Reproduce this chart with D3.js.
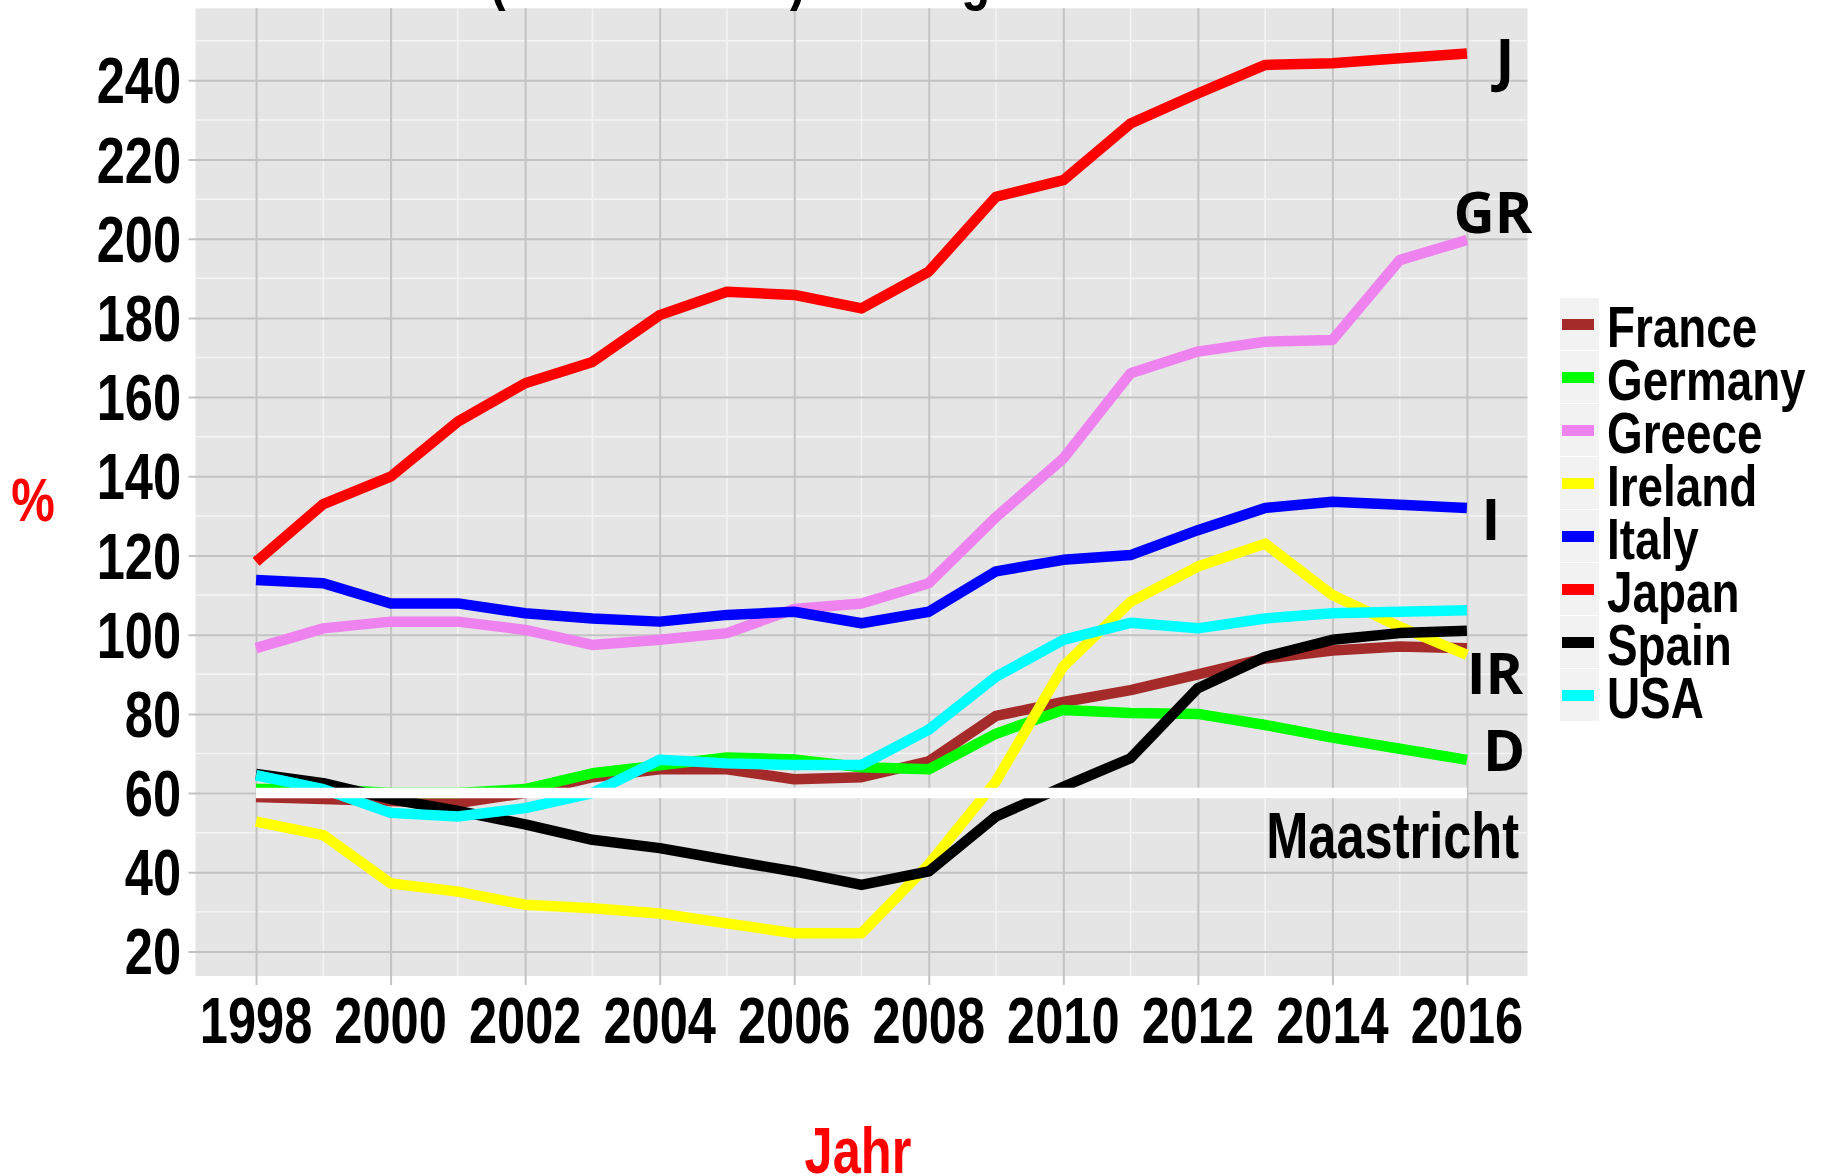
<!DOCTYPE html>
<html lang="de">
  <head>
    <meta charset="UTF-8">
    <script type="text/javascript" src="https://cdn.jsdelivr.net/npm/d3@7"></script>
    <style>
      body { margin: 0; background: #fff; }
      .narrow { font-family: 'Liberation Sans', Arial, sans-serif; font-weight: bold; }
      .tag { font-family: 'Open Sans', 'Noto Sans', sans-serif; font-weight: bold; }
    </style>
    <title>Staatsschulden</title>
  </head>
  <body>
    <script type="text/javascript">
      // Data (% of GDP)
      let years = d3.range(1998, 2017);
      let countries = ['France', 'Germany', 'Greece', 'Ireland', 'Italy', 'Japan', 'Spain', 'USA'];
      let colors = ['#A52A2A', '#00FF00', '#EE82EE', '#FFFF00', '#0000FF', '#FF0000', '#000000', '#00FFFF'];

      let france  = [59, 58.5, 58, 57.5, 60, 64, 66, 66, 63.5, 64, 68, 79.5, 83, 86, 90, 94, 96, 97, 96.6];
      let germany = [61, 61, 60, 60, 61, 65, 67, 69, 68.5, 66.5, 66, 75, 81, 80.2, 80, 77.2, 74, 71.2, 68.4];
      let greece  = [96.6, 101.6, 103.3, 103.3, 101.2, 97.4, 98.7, 100.4, 106.5, 107.9, 113, 129.7, 144.5, 166, 171.5, 174, 174.4, 194.6, 199.7];
      let ireland = [52.8, 49.4, 37.2, 35.1, 31.8, 30.9, 29.6, 27.1, 24.6, 24.6, 42, 63, 92, 108.3, 117.2, 123, 110, 102, 94.9];
      let italy   = [113.8, 113, 107.9, 107.9, 105.4, 104.1, 103.3, 105, 105.8, 102.9, 105.8, 116, 118.9, 120.1, 126.4, 132, 133.6, 132.8, 132];
      let japan   = [118.4, 133, 139.9, 153.8, 163.5, 168.9, 180.7, 186.6, 185.8, 182.4, 191.7, 210.6, 214.8, 229.1, 236.7, 243.9, 244.3, 245.6, 246.8];
      let spain   = [64.8, 62.5, 58.5, 55.5, 52.1, 48.2, 46.1, 43.1, 40.2, 36.8, 40.2, 54.1, 61.6, 68.8, 86.5, 94.4, 98.7, 100.4, 101];
      let usa     = [64.5, 61, 55, 54.1, 56.2, 60, 68.4, 67.5, 67.1, 67.1, 76, 89.4, 98.7, 103, 101.6, 104.1, 105.4, 105.8, 106.2];
      let seriesValues = [france, germany, greece, ireland, italy, japan, spain, usa];

      let endLabels = [
        { text: 'J', country: 'Japan' },
        { text: 'GR', country: 'Greece' },
        { text: 'I', country: 'Italy' },
        { text: 'IR', country: 'Ireland' },
        { text: 'D', country: 'Germany' }
      ];
      let maastricht = 60;
      let xTicks = d3.range(1998, 2017, 2);
      let yTicks = d3.range(20, 241, 20);

      let w = 1823;
      let h = 1176;
      let squeeze = 0.79; // the picture's font is a condensed sans

      // place a condensed text at x,y
      let at = (x, y) => 'translate(' + x + ',' + y + ') scale(' + squeeze + ',1)';

      let svg = d3.select('body')
                  .append('svg')
                  .attr('width', w)
                  .attr('height', h);

      let xScale = d3.scaleLinear()
                      .domain([1997.1, 2016.9])
                      .range([195.5, 1527.5]);
      let yScale = d3.scaleLinear()
                      .domain([13.8, 258.2])
                      .range([976, 8.3]);

      let [x0, x1] = xScale.range();
      let [y0, y1] = yScale.range();

      // Panel background
      svg.append('rect')
          .attr('x', x0)
          .attr('y', y1)
          .attr('width', x1 - x0)
          .attr('height', y0 - y1)
          .attr('fill', '#E5E5E5');

      // Minor grid (white)
      let minorX = d3.range(1997, 2018, 2).filter(d => d > 1997.1 && d < 2016.9);
      let minorY = d3.range(10, 260, 20).filter(d => d > 13.8 && d < 258.2);
      svg.append('g').selectAll('line')
          .data(minorX)
          .enter()
          .append('line')
          .attr('x1', d => xScale(d)).attr('x2', d => xScale(d))
          .attr('y1', y1).attr('y2', y0)
          .attr('stroke', '#F4F4F4').attr('stroke-width', 1.5);
      svg.append('g').selectAll('line')
          .data(minorY)
          .enter()
          .append('line')
          .attr('x1', x0).attr('x2', x1)
          .attr('y1', d => yScale(d)).attr('y2', d => yScale(d))
          .attr('stroke', '#F4F4F4').attr('stroke-width', 1.5);

      // Major grid (grey) via axes with full-length ticks
      let xAxis = d3.axisBottom(xScale).tickValues(xTicks).tickSize(y0 - y1 + 9).tickFormat('');
      let yAxis = d3.axisLeft(yScale).tickValues(yTicks).tickSize(x1 - x0 + 7).tickFormat('');
      svg.append('g')
          .attr('class', 'x grid')
          .attr('transform', 'translate(0,' + y1 + ')')
          .call(xAxis)
          .call(g => g.select('.domain').remove())
          .call(g => g.selectAll('line').attr('stroke', '#C3C3C3').attr('stroke-width', 2));
      svg.append('g')
          .attr('class', 'y grid')
          .attr('transform', 'translate(' + x1 + ',0)')
          .call(yAxis)
          .call(g => g.select('.domain').remove())
          .call(g => g.selectAll('line').attr('stroke', '#C3C3C3').attr('stroke-width', 2));

      // Tick labels
      svg.append('g').selectAll('text')
          .data(xTicks)
          .enter()
          .append('text')
          .attr('class', 'narrow')
          .attr('transform', d => at(xScale(d), 1043))
          .attr('text-anchor', 'middle')
          .attr('font-size', 64)
          .text(d => d);
      svg.append('g').selectAll('text')
          .data(yTicks)
          .enter()
          .append('text')
          .attr('class', 'narrow')
          .attr('transform', d => at(181, yScale(d) + 23))
          .attr('text-anchor', 'end')
          .attr('font-size', 64)
          .text(d => d);

      // Lines
      let line = d3.line()
                    .x(d => xScale(d[0]))
                    .y(d => yScale(d[1]));
      svg.append('g').selectAll('path')
          .data(countries.map((c, i) => years.map((y, j) => [y, seriesValues[i][j]])))
          .enter()
          .append('path')
          .attr('d', line)
          .attr('fill', 'none')
          .attr('stroke', (d, i) => colors[i])
          .attr('stroke-width', 10.5)
          .attr('stroke-linejoin', 'round');

      // Maastricht limit
      svg.append('line')
          .attr('x1', xScale(1998)).attr('x2', xScale(2016))
          .attr('y1', yScale(maastricht)).attr('y2', yScale(maastricht))
          .attr('stroke', '#fff')
          .attr('stroke-width', 10.5);
      svg.append('text')
          .attr('class', 'narrow')
          .attr('transform', at(1519, 858))
          .attr('text-anchor', 'end')
          .attr('font-size', 64)
          .text('Maastricht');

      // Country tags at the line ends
      let tagPos = { J: [1505, 80], GR: [1493, 233], I: [1491, 540], IR: [1495, 694], D: [1504, 771] };
      svg.append('g').selectAll('text')
          .data(endLabels)
          .enter()
          .append('text')
          .attr('class', 'tag')
          .attr('x', d => tagPos[d.text][0])
          .attr('y', d => tagPos[d.text][1])
          .attr('text-anchor', 'middle')
          .attr('font-size', 57)
          .text(d => d.text);

      // Legend
      let legend = svg.append('g').attr('transform', 'translate(1560,298)');
      let keyH = 53;
      let items = legend.selectAll('g')
          .data(countries)
          .enter()
          .append('g')
          .attr('transform', (d, i) => 'translate(0,' + i * keyH + ')');
      items.append('rect')
          .attr('width', 39)
          .attr('height', keyH - 1)
          .attr('fill', '#F2F2F2');
      items.append('line')
          .attr('x1', 2).attr('x2', 34)
          .attr('y1', keyH / 2).attr('y2', keyH / 2)
          .attr('stroke', (d, i) => colors[i])
          .attr('stroke-width', 11);
      items.append('text')
          .attr('class', 'narrow')
          .attr('transform', at(47, keyH / 2 + 22))
          .attr('font-size', 58)
          .text(d => d);

      // Axis titles
      svg.append('text')
          .attr('class', 'narrow')
          .attr('transform', at(858, 1173))
          .attr('text-anchor', 'middle')
          .attr('font-size', 64)
          .attr('fill', '#FF0000')
          .text('Jahr');
      svg.append('text')
          .attr('class', 'narrow')
          .attr('transform', at(33, 521))
          .attr('text-anchor', 'middle')
          .attr('font-size', 62)
          .attr('fill', '#FF0000')
          .text('%');

      // Title, cut off at the top edge of the picture
      let title = svg.append('text')
          .attr('class', 'narrow')
          .attr('font-size', 60);
      let pre = title.append('tspan').text('Staatsschulden ');
      title.append('tspan').text('(in % des BIP) im Vergleich');
      title.attr('transform', at(490 - pre.node().getComputedTextLength() * squeeze, -1));
    </script>
  </body>
</html>
